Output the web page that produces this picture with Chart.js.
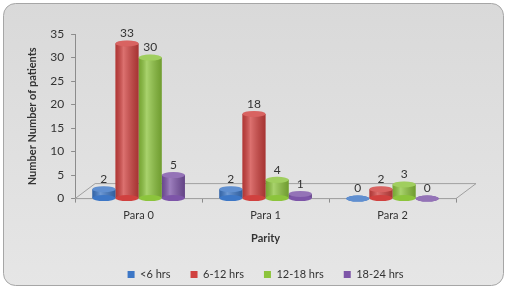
<!DOCTYPE html>
<html>
<head>
<meta charset="utf-8">
<script src="https://cdn.jsdelivr.net/npm/chart.js@4"></script>
<style>
  html, body { margin: 0; padding: 0; background: #ffffff; }
  #wrap { width: 509px; height: 290px; }
</style>
</head>
<body>
<div id="wrap"><canvas id="grafico"></canvas></div>
<script>
// dados
const categorias = ['Para 0', 'Para 1', 'Para 2'];
const menos6 = [2, 2, 0];
const de6a12 = [33, 18, 2];
const de12a18 = [30, 4, 3];
const de18a24 = [5, 1, 0];
const rotulos = ['<6 hrs', '6-12 hrs', '12-18 hrs', '18-24 hrs'];
const cores = ['#3d77c6', '#d0413f', '#8cc43c', '#7d55a8'];

// fundo cinza arredondado
const fundo = {
    id: 'fundo',
    beforeDraw(chart) {
        const c = chart.ctx;
        const x = 3.5, y = 3.5, w = 500, h = 282, r = 12;
        const g = c.createLinearGradient(0, 0, 0, 290);
        g.addColorStop(0, '#d9d9d9');
        g.addColorStop(1, '#e6e6e6');
        c.save();
        c.beginPath();
        c.roundRect(x, y, w, h, r);
        c.fillStyle = g;
        c.fill();
        c.strokeStyle = '#a6a6a6';
        c.lineWidth = 1;
        c.stroke();
        c.restore();
    }
};

// piso em perspectiva
const piso = {
    id: 'piso',
    beforeDatasetsDraw(chart) {
        const c = chart.ctx;
        const xs = chart.scales.x, ys = chart.scales.y;
        const y0 = ys.getPixelForValue(0);
        const dx = 20, dy = 15;
        c.save();
        c.beginPath();
        c.moveTo(xs.left, y0);
        c.lineTo(xs.right, y0);
        c.lineTo(xs.right + dx, y0 - dy);
        c.lineTo(xs.left + dx, y0 - dy);
        c.closePath();
        c.fillStyle = '#e3e3e3';
        c.fill();
        c.strokeStyle = '#a0a0a0';
        c.lineWidth = 1;
        c.stroke();
        c.restore();
    }
};

// sombreado de cilindro + rotulos de valor
const cilindro = {
    id: 'cilindro',
    afterDatasetsDraw(chart) {
        const c = chart.ctx;
        c.save();
        chart.data.datasets.forEach((ds, i) => {
            const meta = chart.getDatasetMeta(i);
            meta.data.forEach((bar, j) => {
                const w = bar.width, left = bar.x - w / 2;
                const g = c.createLinearGradient(left, 0, left + w, 0);
                g.addColorStop(0, 'rgba(0,0,0,0.15)');
                g.addColorStop(0.35, 'rgba(255,255,255,0.25)');
                g.addColorStop(1, 'rgba(0,0,0,0.2)');
                c.fillStyle = g;
                c.fillRect(left, bar.y, w, bar.base - bar.y);
                // base e topo
                c.fillStyle = ds.backgroundColor;
                c.beginPath();
                c.ellipse(bar.x, bar.base, w / 2, 3, 0, 0, Math.PI * 2);
                c.fill();
                c.beginPath();
                c.ellipse(bar.x, bar.y, w / 2, 3, 0, 0, Math.PI * 2);
                c.fill();
                c.fillStyle = 'rgba(255,255,255,0.18)';
                c.fill();
                // valor
                c.fillStyle = '#333333';
                c.font = '12px Lato';
                c.textAlign = 'center';
                c.textBaseline = 'bottom';
                c.fillText(ds.data[j], bar.x, bar.y - 4);
            });
        });
        c.restore();
    }
};

const series = [menos6, de6a12, de12a18, de18a24];

new Chart(document.getElementById('grafico'), {
    type: 'bar',
    data: {
        labels: categorias,
        datasets: series.map((d, i) => ({
            label: rotulos[i],
            data: d,
            backgroundColor: cores[i],
            categoryPercentage: 0.73,
            barPercentage: 1.0
        }))
    },
    options: {
        responsive: true,
        maintainAspectRatio: false,
        animation: false,
        layout: {
            padding: { top: 34, left: 22, right: 53, bottom: 0 }
        },
        scales: {
            y: {
                min: 0,
                max: 35,
                ticks: {
                    stepSize: 5,
                    padding: 7,
                    color: '#333333',
                    font: { family: 'Lato', size: 12 }
                },
                grid: {
                    drawOnChartArea: false,
                    tickLength: 4,
                    color: '#8c8c8c'
                },
                border: { color: '#8c8c8c' },
                title: {
                    display: true,
                    text: 'Number Number of patients',
                    color: '#333333',
                    font: { family: 'Lato', size: 11, weight: 'bold' }
                }
            },
            x: {
                ticks: {
                    padding: 6,
                    color: '#333333',
                    font: { family: 'Lato', size: 11 }
                },
                grid: {
                    offset: true,
                    drawOnChartArea: false,
                    tickLength: 4,
                    color: '#8c8c8c'
                },
                border: { color: '#8c8c8c' },
                title: {
                    display: true,
                    text: 'Parity',
                    color: '#333333',
                    padding: { top: 4, bottom: 4 },
                    font: { family: 'Lato', size: 11, weight: 'bold' }
                }
            }
        },
        plugins: {
            legend: {
                position: 'bottom',
                fullSize: false,
                labels: {
                    boxWidth: 7,
                    boxHeight: 7,
                    padding: 20,
                    color: '#333333',
                    font: { family: 'Lato', size: 11 }
                }
            },
            tooltip: { enabled: false }
        }
    },
    plugins: [fundo, piso, cilindro]
});
</script>
</body>
</html>
